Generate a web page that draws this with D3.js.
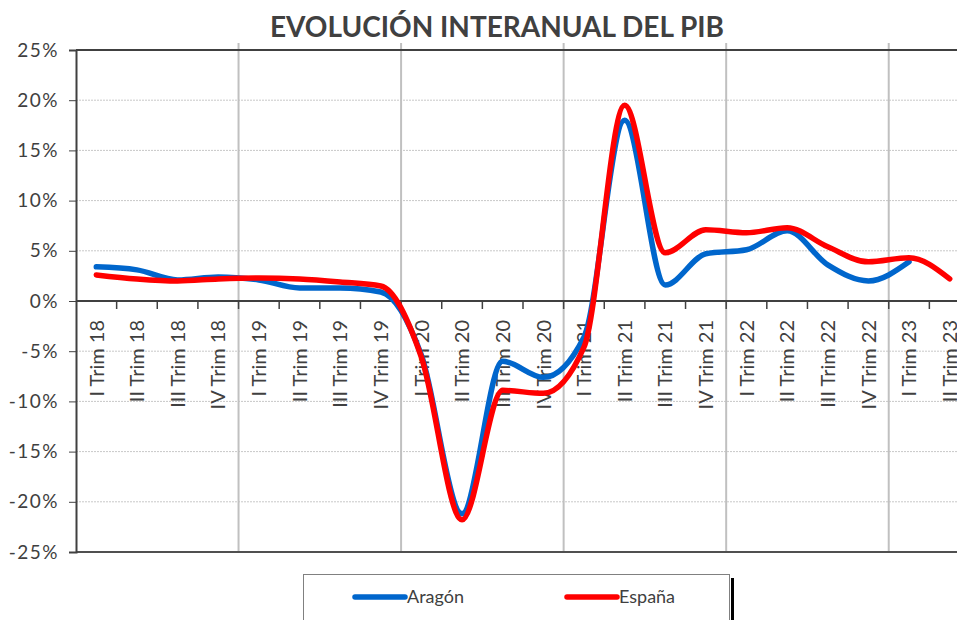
<!DOCTYPE html>
<html>
<head>
<meta charset="utf-8">
<script src="https://cdn.jsdelivr.net/npm/d3@7"></script>
<style>
  body { margin: 0; background: #fff; }
  text { font-family: Lato, "DejaVu Sans", sans-serif; fill: #404040; }
</style>
</head>
<body>
<svg width="957" height="620"></svg>
<script>
const quarters = [
	"I Trim 18", "II Trim 18", "III Trim 18", "IV Trim 18",
	"I Trim 19", "II Trim 19", "III Trim 19", "IV Trim 19",
	"I Trim 20", "II Trim 20", "III Trim 20", "IV Trim 20",
	"I Trim 21", "II Trim 21", "III Trim 21", "IV Trim 21",
	"I Trim 22", "II Trim 22", "III Trim 22", "IV Trim 22",
	"I Trim 23", "II Trim 23"
]
// % variacion interanual (Aragon sin dato en II Trim 23)
const aragon = [3.4, 3.1, 2.1, 2.4, 2.1, 1.3, 1.3, 0.9, -5.4, -21.2, -6.0, -7.6,
	-3.6, 18.0, 1.6, 4.7, 5.1, 7.0, 3.6, 2.0, 3.9]
const espana = [2.6, 2.2, 2.0, 2.2, 2.3, 2.2, 1.9, 1.5, -5.6, -21.8, -8.9, -9.2,
	-4.6, 19.5, 4.8, 7.1, 6.8, 7.3, 5.4, 3.9, 4.3, 2.2]
const yTicks = [-25, -20, -15, -10, -5, 0, 5, 10, 15, 20, 25]

const series = [
	{ name: "Aragón", values: aragon, color: "#0066cc" },
	{ name: "España", values: espana, color: "#ff0000" }
]

const svg = d3.select("svg")
const plot = { left: 76, right: 970, top: 50, bottom: 552 }

const x = d3.scaleBand().domain(quarters).range([plot.left, plot.right])
const y = d3.scaleLinear().domain([-25, 25]).range([plot.bottom, plot.top])
const cx = (q) => x(q) + x.bandwidth() / 2

// title
svg.append("text")
	.attr("x", 497).attr("y", 37)
	.attr("text-anchor", "middle")
	.style("font-size", "28px").style("font-weight", "bold")
	.text("EVOLUCIÓN INTERANUAL DEL PIB")

// horizontal dotted grid
svg.append("g").selectAll("line")
	.data(yTicks.filter((d) => d !== 0 && d !== 25 && d !== -25))
	.enter().append("line")
	.attr("x1", plot.left).attr("x2", 957)
	.attr("y1", (d) => y(d)).attr("y2", (d) => y(d))
	.attr("stroke", "#c8c8c8").attr("stroke-dasharray", "2,1")

// year separators
svg.append("g").selectAll("line")
	.data(quarters.filter((q, i) => i > 0 && i % 4 === 0))
	.enter().append("line")
	.attr("x1", (d) => x(d)).attr("x2", (d) => x(d))
	.attr("y1", 43).attr("y2", plot.bottom)
	.attr("stroke", "#c0c0c0").attr("stroke-width", 2)

// frame
svg.append("line").attr("x1", plot.left).attr("x2", 957)
	.attr("y1", plot.top).attr("y2", plot.top)
	.attr("stroke", "#404040").attr("stroke-width", 2)
svg.append("line").attr("x1", plot.left).attr("x2", 957)
	.attr("y1", plot.bottom).attr("y2", plot.bottom)
	.attr("stroke", "#505050").attr("stroke-width", 2)

// y axis
const yAxis = d3.axisLeft(y).tickValues(yTicks).tickSize(7).tickFormat((d) => d + "%")
const yAxisGroup = svg.append("g").attr("transform", `translate(${plot.left}, 0)`).call(yAxis)
yAxisGroup.select(".domain").attr("stroke", "#404040").attr("stroke-width", 2)
yAxisGroup.selectAll(".tick line").attr("stroke", "#404040")
yAxisGroup.selectAll(".tick text")
	.attr("x", -17)
	.style("font-size", "19px").style("letter-spacing", "1.5px")
	.attr("fill", "#404040")

// category labels
svg.append("g").selectAll("text")
	.data(quarters)
	.enter().append("text")
	.attr("transform", (d) => `translate(${cx(d)}, 320) rotate(-90)`)
	.attr("text-anchor", "end")
	.attr("dy", "0.36em")
	.style("font-size", "20px")
	.text((d) => d)

// zero axis with ticks between categories
svg.append("line").attr("x1", plot.left).attr("x2", 957)
	.attr("y1", y(0)).attr("y2", y(0))
	.attr("stroke", "#404040").attr("stroke-width", 2)
svg.append("g").selectAll("line")
	.data(quarters.slice(1))
	.enter().append("line")
	.attr("x1", (d) => x(d)).attr("x2", (d) => x(d))
	.attr("y1", y(0)).attr("y2", y(0) + 8)
	.attr("stroke", "#404040").attr("stroke-width", 1.5)

// lines
const line = d3.line()
	.x((d, i) => cx(quarters[i]))
	.y((d) => y(d))
	.curve(d3.curveMonotoneX)

svg.append("g").selectAll("path")
	.data(series)
	.enter().append("path")
	.attr("d", (d) => line(d.values))
	.attr("fill", "none")
	.attr("stroke", (d) => d.color)
	.attr("stroke-width", 5.5)
	.attr("stroke-linejoin", "round")
	.attr("stroke-linecap", "round")

// legend
const legend = svg.append("g")
legend.append("rect")
	.attr("x", 731).attr("y", 578).attr("width", 3).attr("height", 50)
	.attr("fill", "#000")
legend.append("rect")
	.attr("x", 303.5).attr("y", 574.5).attr("width", 426).attr("height", 60)
	.attr("fill", "#fff").attr("stroke", "#808080")
const items = legend.selectAll("g.item")
	.data(series)
	.enter().append("g")
	.attr("transform", (d, i) => `translate(${i === 0 ? 355 : 567}, 597)`)
items.append("line")
	.attr("x1", 0).attr("x2", 50)
	.attr("stroke", (d) => d.color).attr("stroke-width", 5.5)
	.attr("stroke-linecap", "round")
items.append("text")
	.attr("x", 52).attr("dy", "0.36em")
	.style("font-size", "18px")
	.text((d) => d.name)
</script>
</body>
</html>
